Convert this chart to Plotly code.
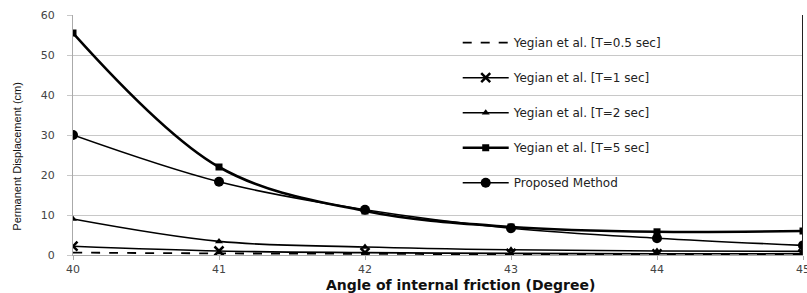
import plotly.graph_objects as go

angles = [40, 41, 42, 43, 44, 45]
t05 = [0.6, 0.4, 0.3, 0.2, 0.2, 0.2]
t1 = [2.2, 1.0, 0.6, 0.4, 0.3, 0.3]
t2 = [9.0, 3.4, 2.0, 1.3, 1.0, 0.9]
t5 = [55.5, 22.0, 11.0, 7.0, 5.8, 6.0]
proposed = [30.0, 18.3, 11.3, 6.7, 4.2, 2.4]
names = ["Yegian et al. [T=0.5 sec]", "Yegian et al. [T=1 sec]",
         "Yegian et al. [T=2 sec]", "Yegian et al. [T=5 sec]", "Proposed Method"]
y_ticks = [0, 10, 20, 30, 40, 50, 60]
x_ticks = [40, 41, 42, 43, 44, 45]
x_title = "Angle of internal friction (Degree)"
y_title = "Permanent Displacement (cm)"

fig = go.Figure()
specs = [
    (t05, dict(width=1.8, dash="dash"), None, "lines"),
    (t1, dict(width=1.6), dict(symbol="x-thin", size=9, line=dict(width=2.5, color="black")), "lines+markers"),
    (t2, dict(width=1.6), dict(symbol="triangle-up", size=7), "lines+markers"),
    (t5, dict(width=2.6), dict(symbol="square", size=7), "lines+markers"),
    (proposed, dict(width=1.6), dict(symbol="circle", size=10), "lines+markers"),
]
for i, (vals, ln, mk, mode) in enumerate(specs):
    ln = dict(ln, color="black", shape="spline", smoothing=1.0)
    kw = dict(x=angles, y=vals, name=names[i], mode=mode, line=ln, legendgroup=f"g{i}")
    if mk:
        kw["marker"] = dict(mk, color="black")
    fig.add_trace(go.Scatter(**kw))

fig.add_shape(type="line", xref="x", yref="paper", x0=45, x1=45, y0=0, y1=1,
              line=dict(color="#222", width=2))

tick_font = dict(family="DejaVu Sans", size=11, color="#444")
# last tick label sits on the window edge (partially cut, as in the reference)
fig.add_annotation(x=x_ticks[-1], y=0, xref="x", yref="paper", yanchor="top", yshift=-6,
                   text=str(x_ticks[-1]), showarrow=False, font=tick_font)
# axis titles (placed as in the reference, which is offset from the plot centre)
fig.add_annotation(x=0.531, y=0, xref="paper", yref="paper", xanchor="center", yanchor="top",
                   yshift=-20, text=f"<b>{x_title}</b>", showarrow=False,
                   font=dict(family="DejaVu Sans", size=14, color="#111"))
fig.add_annotation(x=-(73 - 17) / 731, y=0.41, xref="paper", yref="paper",
                   xanchor="center", yanchor="middle",
                   text=y_title, textangle=-90, showarrow=False,
                   font=dict(family="Liberation Sans Narrow, Liberation Sans", size=11, color="#111"))

fig.update_layout(
    width=807, height=293,
    margin=dict(l=73, r=4, t=15, b=38),
    paper_bgcolor="white", plot_bgcolor="white",
    showlegend=True,
    legend=dict(x=0.527, y=0.945, xanchor="left", yanchor="top",
                bgcolor="rgba(0,0,0,0)", tracegroupgap=16, traceorder="grouped",
                font=dict(family="DejaVu Sans", size=12, color="#222"), itemwidth=46),
    font=dict(family="DejaVu Sans", size=11, color="#333"),
)
fig.update_xaxes(range=[40, 45], tickvals=x_ticks, showgrid=False, showline=True, automargin=False,
                 linecolor="#aaa", linewidth=1, ticks="outside", tickcolor="#aaa", ticklen=4,
                 zeroline=False, tickfont=tick_font)
fig.update_yaxes(range=[0, 60], tickvals=y_ticks, showgrid=True, gridcolor="#c8c8c8", automargin=False,
                 gridwidth=1, showline=True, linecolor="#aaa", linewidth=1,
                 ticks="outside", tickcolor="#c8c8c8", ticklen=5, ticklabelstandoff=10, zeroline=False,
                 tickfont=tick_font)

fig.write_html("out.html", config={"displayModeBar": False},
               post_script="document.body.style.margin='0';document.body.style.overflow='hidden';")
